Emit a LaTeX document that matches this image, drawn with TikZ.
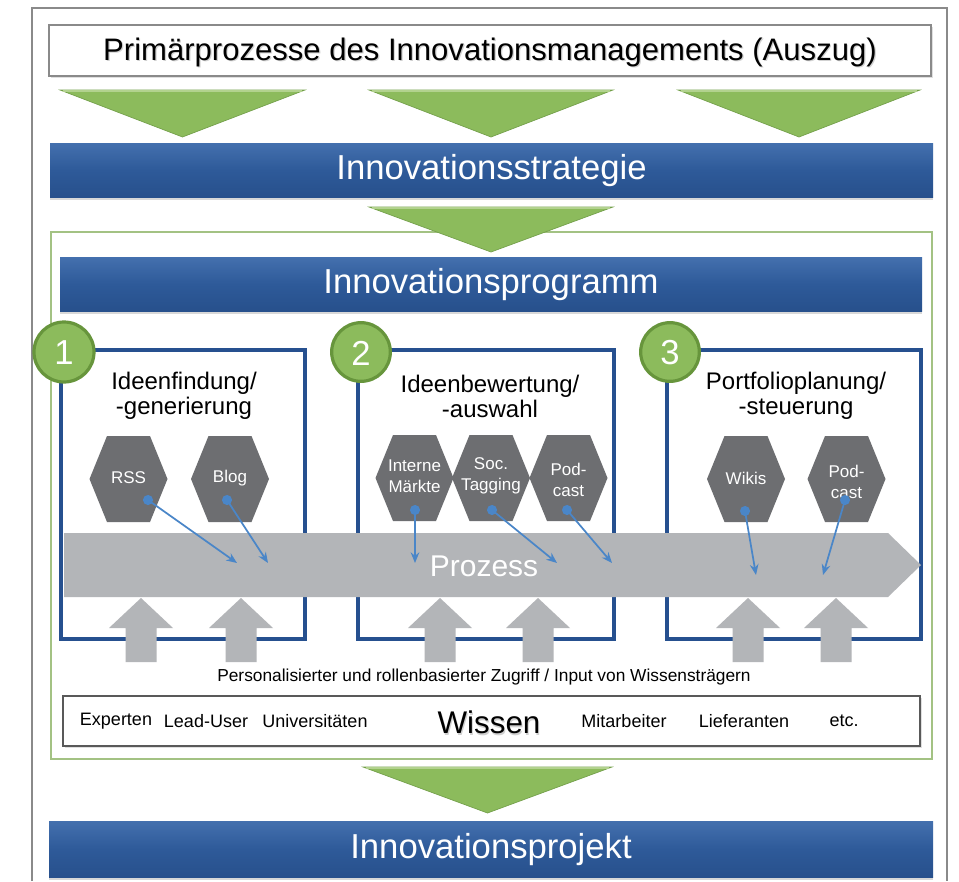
\documentclass[tikz,border=0pt]{standalone}
\usepackage{fontspec}
\setmainfont{Liberation Sans}
\usetikzlibrary{shadows,arrows.meta}

\definecolor{barblue}{HTML}{2E5A99}
\definecolor{bartop}{HTML}{4470AE}
\definecolor{barbot}{HTML}{27508C}
\definecolor{leaf}{HTML}{8CBB5C}
\definecolor{leafdark}{HTML}{739F4A}
\definecolor{leaflight}{HTML}{B2D28E}
\definecolor{ringgreen}{HTML}{67953C}
\definecolor{boxblue}{HTML}{26508F}
\definecolor{hexgray}{HTML}{6D6E71}
\definecolor{flowgray}{HTML}{B3B5B8}
\definecolor{linkblue}{HTML}{4A86C8}
\definecolor{framegray}{HTML}{8A8A8A}
\definecolor{panelgreen}{HTML}{A3C283}

\tikzset{
  bar/.style={top color=bartop, bottom color=barbot, middle color=barblue,
    drop shadow={opacity=0.3, shadow xshift=0pt, shadow yshift=-2.5pt}},
  bartext/.style={text=white, font=\fontsize{26}{30}\selectfont},
  funnel/.style={fill=leaf, draw=leafdark, line width=0.5pt},
  funneltop/.style={draw=leaflight, line width=1.2pt},
  phasebox/.style={draw=boxblue, line width=2.6pt},
  phasetitle/.style={align=center, font=\fontsize{18}{18.75}\selectfont},
  badge/.style={fill=leaf, draw=ringgreen, line width=2.4pt},
  badgetext/.style={text=white, font=\fontsize{26}{30}\selectfont},
  hexlabel/.style={text=white, align=center, font=\fontsize{12.75}{15.5}\selectfont},
  link/.style={draw=linkblue, line width=1.3pt, -{Stealth[length=8pt,width=6.5pt]}},
  flow/.style={fill=flowgray},
  smalltext/.style={font=\fontsize{13}{15}\selectfont},
  sourcetext/.style={font=\fontsize{13.5}{16}\selectfont},
}

% dark hexagon with its label: name, centre x, centre y, label y, text
\newcommand\hexcell[5]{%
  \fill[hexgray] (#2-21.5,#3-43) -- (#2+21.5,#3-43) -- (#2+39,#3)
    -- (#2+21.5,#3+43) -- (#2-21.5,#3+43) -- (#2-39,#3) -- cycle;
  \node[hexlabel] (#1) at (#2,#4) {#5};}

% grey upward arrow under the process band, centre x
\newcommand\uparrowat[1]{%
  \fill[flowgray] (#1,598) -- (#1+32,628) -- (#1+15.5,628) -- (#1+15.5,662)
    -- (#1-15.5,662) -- (#1-15.5,628) -- (#1-32,628) -- cycle;}

% green funnel triangle: left x, right x, top y, apex y
\newcommand\funnelat[4]{%
  \path[funnel] (#1,#3) -- (#2,#3) -- ({(#1+#2)/2},#4) -- cycle;
  \draw[funneltop] (#1+3,#3+1) -- (#2-3,#3+1);}

\begin{document}
\begin{tikzpicture}[x=0.75pt, y=-0.75pt]
\useasboundingbox (0,0) rectangle (959,881);
\fill[white] (0,0) rectangle (959,881);

% outer frame
\draw[framegray, line width=1.5pt] (32,881) -- (32,8) -- (947,8) -- (947,881);

% heading
\path[fill=white, draw=framegray, line width=1.5pt,
  drop shadow={opacity=0.25, shadow xshift=1.5pt, shadow yshift=-1.5pt}]
  (49,25) rectangle (931,76);
\node[text=black!18, font=\fontsize{23.3}{28}\selectfont] at (491.2,53.2)
  {Primärprozesse des Innovationsmanagements (Auszug)};
\node[font=\fontsize{23.3}{28}\selectfont] (head) at (490,52)
  {Primärprozesse des Innovationsmanagements (Auszug)};

% funnels into the strategy
\funnelat{60}{305}{90}{137}
\funnelat{369}{613}{90}{137}
\funnelat{678}{920}{90}{137}

\path[bar] (50,143) rectangle (933,197);
\node[bartext] (strat) at (491.5,171) {Innovationsstrategie};

% programme panel
\draw[panelgreen, line width=0.8pt] (51,232) rectangle (932,759);
\funnelat{369}{613}{207}{252}

\path[bar] (60,257) rectangle (922,311);
\node[bartext] (prog) at (491,285) {Innovationsprogramm};

% phase boxes
\draw[phasebox] (61,350) rectangle (305,639);
\draw[phasebox] (358,350) rectangle (614,639);
\draw[phasebox] (667,350) rectangle (921,639);

\node[phasetitle] (t1) at (184,396) {Ideenfindung/\\-generierung};
\node[phasetitle] (t2) at (490,396) {Ideenbewertung/\\-auswahl};
\node[phasetitle] (t3) at (796,396) {Portfolioplanung/\\-steuerung};

% numbered badges
\path[badge] (64,352) circle (22.5pt);
\node[badgetext] (n1) at (64,353) {1};
\path[badge] (361,352) circle (22pt);
\node[badgetext] (n2) at (361,353) {2};
\path[badge] (670,352) circle (22pt);
\node[badgetext] (n3) at (670,353) {3};

% tools
\hexcell{rss}{128.5}{479}{478}{RSS}
\hexcell{blog}{230}{479}{478}{Blog}
\hexcell{markt}{414.5}{478}{476}{Interne\\Märkte}
\hexcell{tag}{491}{478}{476}{Soc.\\Tagging}
\hexcell{podA}{568.5}{478}{480}{Pod-\\cast}
\hexcell{wiki}{746}{479}{478}{Wikis}
\hexcell{podB}{846.5}{479}{482}{Pod-\\cast}

% process band
\fill[flowgray] (64,533) -- (888,533) -- (921,565) -- (888,597) -- (64,597) -- cycle;
\node[text=white, font=\fontsize{22.5}{26}\selectfont] (proc) at (484,566) {Prozess};

% knowledge input arrows
\uparrowat{141}
\uparrowat{241}
\uparrowat{440}
\uparrowat{538}
\uparrowat{748}
\uparrowat{836}

% links from tools into the process
\coordinate (rssS) at (148,500);   \coordinate (rssT) at (237,563);
\coordinate (blogS) at (227,500);  \coordinate (blogT) at (268,563);
\coordinate (marktS) at (415,510); \coordinate (marktT) at (415,563);
\coordinate (tagS) at (492,510);   \coordinate (tagT) at (557,563);
\coordinate (podAS) at (567,510);  \coordinate (podAT) at (612,563);
\coordinate (wikiS) at (745,511);  \coordinate (wikiT) at (756,575);
\coordinate (podBS) at (845,500);  \coordinate (podBT) at (823,575);
\foreach \s/\t in {rssS/rssT, blogS/blogT, marktS/marktT, tagS/tagT,
                   podAS/podAT, wikiS/wikiT, podBS/podBT} {
  \draw[link] (\s) -- (\t);
  \fill[linkblue] (\s) circle (3.8pt);
}

\node[smalltext] (access) at (484,677)
  {Personalisierter und rollenbasierter Zugriff / Input von Wissensträgern};

% knowledge bearers
\path[fill=white, draw=black!65, line width=1.5pt,
  drop shadow={opacity=0.25, shadow xshift=1.5pt, shadow yshift=-1.5pt}]
  (63,696) rectangle (920,746);
\node[sourcetext] (k1) at (116,721) {Experten};
\node[sourcetext] (k2) at (206,721) {Lead-User};
\node[sourcetext] (k3) at (315,721) {Universitäten};
\node[text=black!18, font=\fontsize{23.5}{28}\selectfont] at (490,724) {Wissen};
\node[font=\fontsize{23.5}{28}\selectfont] (wissen) at (489,722) {Wissen};
\node[sourcetext] (k4) at (624,721) {Mitarbeiter};
\node[sourcetext] (k5) at (744,721) {Lieferanten};
\node[sourcetext] (k6) at (844,721) {etc.};

% into the project
\funnelat{363}{612}{767}{813}
\path[bar] (49,821) rectangle (933,877);
\node[bartext] (proj) at (491,850) {Innovationsprojekt};

\end{tikzpicture}
\end{document}
